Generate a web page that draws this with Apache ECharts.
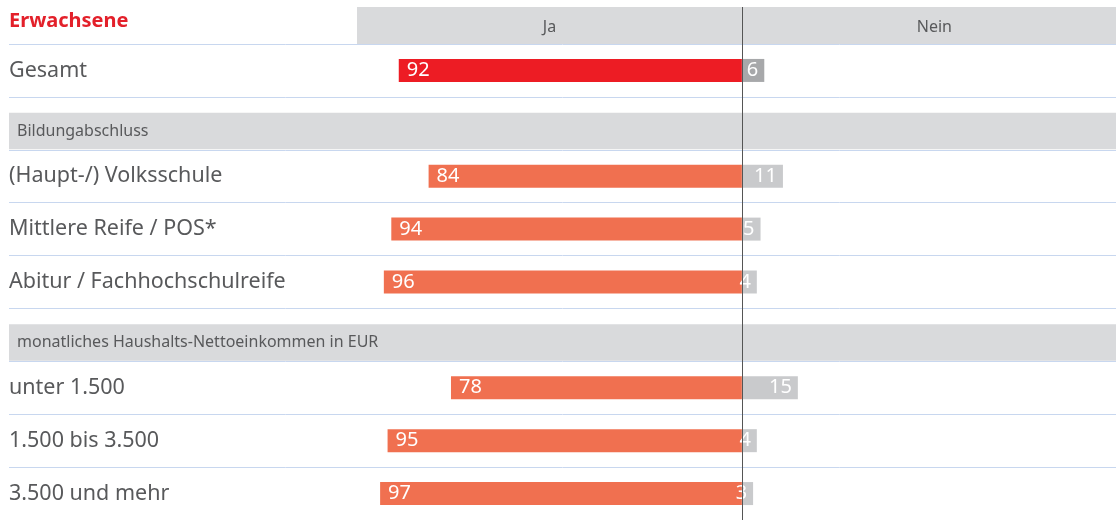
<!DOCTYPE html>
<html>
<head>
<meta charset="utf-8">
<script src="https://cdn.jsdelivr.net/npm/echarts@6/dist/echarts.min.js"></script>
<style>
  html, body { margin: 0; padding: 0; background: #fff; }
  #main { width: 1116px; height: 520px; }
</style>
</head>
<body>
<div id="main"></div>
<script>
// Zeilen von oben nach unten
var categories = [
    'Gesamt',
    'Bildungabschluss',
    '(Haupt-/) Volksschule',
    'Mittlere Reife / POS*',
    'Abitur / Fachhochschulreife',
    'monatliches Haushalts-Nettoeinkommen in EUR',
    'unter 1.500',
    '1.500 bis 3.500',
    '3.500 und mehr'
];
var groupRows = ['Bildungabschluss', 'monatliches Haushalts-Nettoeinkommen in EUR'];
var jaValues = [92, '-', 84, 94, 96, '-', 78, 95, 97];
var neinValues = [6, '-', 11, 5, 4, '-', 15, 4, 3];
var headerLabels = ['Ja', 'Nein'];
var title = 'Erwachsene';

var FONT = '"Noto Sans", sans-serif';
var TEXT = '#58595b';
var X_MIN = -196.5, X_MAX = 100.3, HEAD = 103.2;

var chart = echarts.init(document.getElementById('main'));

var jaData = jaValues.map(function (v, i) {
    if (v === '-') return '-';
    return {
        value: -v,
        itemStyle: { color: i === 0 ? '#ed1c24' : '#f07050' }
    };
});
var neinData = neinValues.map(function (v, i) {
    if (v === '-') return '-';
    return {
        value: v,
        itemStyle: { color: i === 0 ? '#a7a8aa' : '#c9cacc' }
    };
});
var groupData = groupRows.map(function (g) {
    return [0, categories.indexOf(g), g];
});

var centerLine = {
    silent: true,
    symbol: 'none',
    label: { show: false },
    lineStyle: { color: '#555', type: 'solid', width: 1 },
    data: [{ xAxis: 0 }]
};

var option = {
    animation: false,
    textStyle: { fontFamily: FONT },
    title: {
        text: title,
        left: 9,
        top: 11,
        padding: 0,
        textStyle: { fontFamily: FONT, fontSize: 20, fontWeight: 'bold', color: '#e3202a' }
    },
    grid: [
        { left: 9, right: 0, top: 7, height: 37 },
        { left: 9, right: 0, top: 44, bottom: -3 }
    ],
    xAxis: [
        { type: 'value', gridIndex: 0, min: X_MIN, max: X_MAX, show: false },
        { type: 'value', gridIndex: 1, min: X_MIN, max: X_MAX, show: false }
    ],
    yAxis: [
        { type: 'category', gridIndex: 0, data: ['kopf'], show: false },
        {
            type: 'category',
            gridIndex: 1,
            data: categories,
            inverse: true,
            axisLine: { show: false },
            axisTick: { show: false },
            splitLine: { show: true, lineStyle: { color: '#c8d7ef', width: 1 } },
            axisLabel: {
                inside: true,
                margin: 0,
                interval: 0,
                color: TEXT,
                fontSize: 21.5,
                fontFamily: FONT,
                formatter: function (v) {
                    return groupRows.indexOf(v) >= 0 ? '' : v;
                }
            }
        }
    ],
    series: [
        {
            name: 'kopf-ja',
            type: 'bar',
            xAxisIndex: 0,
            yAxisIndex: 0,
            barWidth: '100%',
            barGap: '-100%',
            itemStyle: { color: '#d9dadc' },
            label: { show: true, position: 'inside', offset: [0, 2], color: TEXT, fontSize: 16, fontFamily: FONT,
                formatter: function () { return headerLabels[0]; } },
            data: [-HEAD],
            markLine: centerLine
        },
        {
            name: 'kopf-nein',
            type: 'bar',
            xAxisIndex: 0,
            yAxisIndex: 0,
            barWidth: '100%',
            barGap: '-100%',
            clip: false,
            itemStyle: { color: '#d9dadc' },
            label: { show: true, position: 'inside', offset: [0, 2], color: TEXT, fontSize: 16, fontFamily: FONT,
                formatter: function () { return headerLabels[1]; } },
            data: [HEAD]
        },
        {
            name: 'Gruppen',
            type: 'custom',
            xAxisIndex: 1,
            yAxisIndex: 1,
            encode: { x: 0, y: 1 },
            data: groupData,
            renderItem: function (params, api) {
                var c = api.coord([0, api.value(1)]);
                var h = api.size([0, 1])[1];
                var bottom = c[1] + h / 2;
                var bh = h * 0.7;
                var sys = params.coordSys;
                return {
                    type: 'group',
                    children: [
                        {
                            type: 'rect',
                            shape: { x: sys.x, y: bottom - bh, width: sys.width, height: bh - 0.5 },
                            style: { fill: '#d9dadc' }
                        },
                        {
                            type: 'text',
                            x: sys.x + 8,
                            y: bottom - bh / 2,
                            style: {
                                text: api.value(2),
                                fill: TEXT,
                                font: '16px ' + FONT,
                                verticalAlign: 'middle'
                            }
                        }
                    ]
                };
            }
        },
        {
            name: 'Ja',
            type: 'bar',
            xAxisIndex: 1,
            yAxisIndex: 1,
            barWidth: 23,
            barGap: '-100%',
            label: {
                show: true,
                position: 'insideLeft',
                distance: 8,
                color: '#fff',
                fontSize: 20,
                fontFamily: FONT,
                formatter: function (p) { return Math.abs(p.value); }
            },
            data: jaData,
            markLine: centerLine
        },
        {
            name: 'Nein',
            type: 'bar',
            xAxisIndex: 1,
            yAxisIndex: 1,
            barWidth: 23,
            barGap: '-100%',
            label: {
                show: true,
                position: 'insideRight',
                distance: 6,
                color: '#fff',
                fontSize: 20,
                fontFamily: FONT
            },
            data: neinData
        }
    ]
};
chart.setOption(option);
</script>
</body>
</html>
